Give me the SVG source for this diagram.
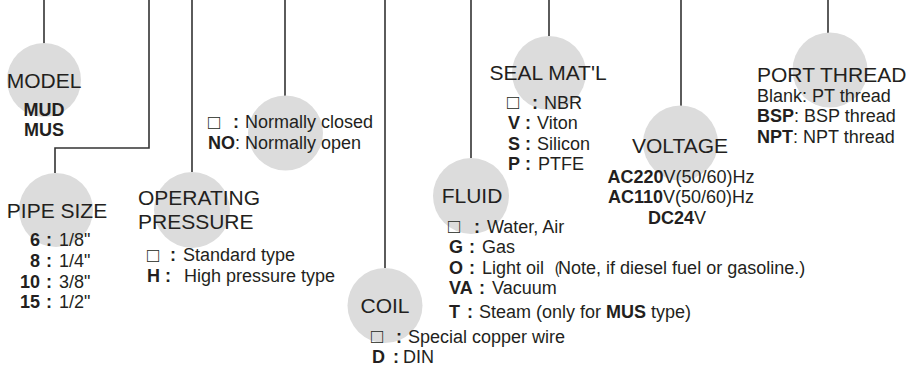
<svg xmlns="http://www.w3.org/2000/svg" width="906" height="367" viewBox="0 0 906 367">
<style>
text{font-family:"Liberation Sans",Arial,sans-serif;fill:#231f20}
.t{font-size:21px}
.i{font-size:18px}
.sq{font-size:20px}
.b{font-weight:bold}
.m{text-anchor:middle}
.e{text-anchor:end}
.c{fill:#dcdcdc}
.ln{fill:none;stroke:#333;stroke-width:1.6}
</style>
<rect width="906" height="367" fill="#fff"/>
<g id="connectors" class="ln">
<path d="M44,0V44"/>
<path d="M149,0V148H55V173"/>
<path d="M192,0V172"/>
<path d="M285,0V96"/>
<path d="M385,0V268"/>
<path d="M471,0V158"/>
<path d="M549,0V36"/>
<path d="M681,0V106"/>
<path d="M828,0V33"/>
</g>
<g id="model">
<circle class="c" cx="44" cy="80" r="37"/>
<text class="t m" x="44" y="88">MODEL</text>
<text class="i b m" x="44" y="116">MUD</text>
<text class="i b m" x="44" y="136">MUS</text>
</g>
<g id="pipe-size">
<circle class="c" cx="56" cy="210" r="37"/>
<text class="t m" x="57" y="218">PIPE SIZE</text>
<text class="i b e" x="40" y="246">6</text><text class="i b" x="46" y="246">:</text><text class="i" x="59" y="246">1/8"</text>
<text class="i b e" x="40" y="267">8</text><text class="i b" x="46" y="267">:</text><text class="i" x="59" y="267">1/4"</text>
<text class="i b e" x="40" y="288">10</text><text class="i b" x="46" y="288">:</text><text class="i" x="59" y="288">3/8"</text>
<text class="i b e" x="40" y="308">15</text><text class="i b" x="46" y="308">:</text><text class="i" x="59" y="308">1/2"</text>
</g>
<g id="operating-pressure">
<circle class="c" cx="192" cy="210" r="38"/>
<text class="t" x="138" y="205">OPERATING</text>
<text class="t" x="138" y="229">PRESSURE</text>
<text class="sq" x="147" y="262">□</text><text class="i b" x="170" y="261">:</text><text class="i" x="183" y="261">Standard type</text>
<text class="i b" x="147" y="282">H</text><text class="i b" x="165" y="282">:</text><text class="i" x="184" y="282">High pressure type</text>
</g>
<g id="normally">
<circle class="c" cx="285.5" cy="133" r="37.5"/>
<text class="sq" x="208" y="129">□</text><text class="i b" x="233" y="128">:</text><text class="i" x="245" y="128">Normally closed</text>
<text class="i" x="208" y="149"><tspan class="b">NO</tspan>: Normally open</text>
</g>
<g id="coil">
<circle class="c" cx="385" cy="305.5" r="37.5"/>
<text class="t m" x="385" y="313">COIL</text>
<text class="sq" x="371" y="343">□</text><text class="i b" x="396" y="343">:</text><text class="i" x="408" y="343">Special copper wire</text>
<text class="i b" x="372" y="363">D</text><text class="i b" x="393" y="363">:</text><text class="i" x="403" y="363">DIN</text>
</g>
<g id="fluid">
<circle class="c" cx="471" cy="196" r="38"/>
<text class="t m" x="472" y="203">FLUID</text>
<text class="sq" x="448" y="233">□</text><text class="i b" x="474" y="233">:</text><text class="i" x="487" y="233">Water, Air</text>
<text class="i b" x="449" y="253">G</text><text class="i b" x="469" y="253">:</text><text class="i" x="482" y="253">Gas</text>
<text class="i b" x="449" y="274">O</text><text class="i b" x="469" y="274">:</text><text class="i" x="482" y="274">Light oil（<tspan dx="-4">Note, if diesel fuel or gasoline.)</tspan></text>
<text class="i b" x="449" y="294">VA</text><text class="i b" x="479" y="294">:</text><text class="i" x="492" y="294">Vacuum</text>
<text class="i b" x="449" y="318">T</text><text class="i b" x="467" y="318">:</text><text class="i" x="479" y="318">Steam (only for <tspan class="b">MUS</tspan> type)</text>
</g>
<g id="seal">
<circle class="c" cx="549" cy="73" r="37"/>
<text class="t m" x="548" y="80">SEAL MAT'L</text>
<text class="sq" x="507" y="109">□</text><text class="i b" x="532" y="109">:</text><text class="i" x="544" y="109">NBR</text>
<text class="i b" x="508" y="129">V</text><text class="i b" x="525" y="129">:</text><text class="i" x="537" y="129">Viton</text>
<text class="i b" x="508" y="150">S</text><text class="i b" x="525" y="150">:</text><text class="i" x="537" y="150">Silicon</text>
<text class="i b" x="508" y="170">P</text><text class="i b" x="525" y="170">:</text><text class="i" x="538" y="170">PTFE</text>
</g>
<g id="voltage">
<circle class="c" cx="680.5" cy="143" r="37.5"/>
<text class="t m" x="680" y="153">VOLTAGE</text>
<text class="i m" x="681" y="183"><tspan class="b">AC220</tspan>V(50/60)Hz</text>
<text class="i m" x="681" y="203"><tspan class="b">AC110</tspan>V(50/60)Hz</text>
<text class="i m" x="677" y="224"><tspan class="b">DC24</tspan>V</text>
</g>
<g id="port-thread">
<circle class="c" cx="830" cy="70" r="37.5"/>
<text class="t" x="757" y="82">PORT THREAD</text>
<text class="i" x="757" y="102">Blank: PT thread</text>
<text class="i" x="757" y="122"><tspan class="b">BSP</tspan>: BSP thread</text>
<text class="i" x="757" y="143"><tspan class="b">NPT</tspan>: NPT thread</text>
</g>
</svg>
